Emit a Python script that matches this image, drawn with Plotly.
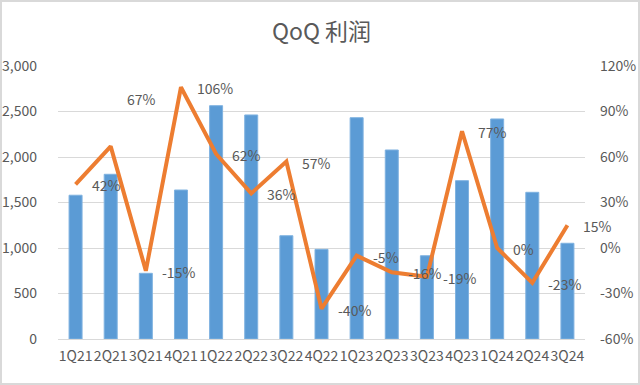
import plotly.graph_objects as go

quarters = ["1Q21","2Q21","3Q21","4Q21","1Q22","2Q22","3Q22","4Q22",
            "1Q23","2Q23","3Q23","4Q23","1Q24","2Q24","3Q24"]
profit = [1580, 1810, 722, 1637, 2564, 2462, 1135, 985,
          2432, 2077, 915, 1740, 2418, 1612, 1052]
qoq_pct = [42, 67, -15, 106, 62, 36, 57, -40, -5, -16, -19, 77, 0, -23, 15]
left_ticks = [0, 500, 1000, 1500, 2000, 2500, 3000]
right_ticks = [-60, -30, 0, 30, 60, 90, 120]

FONT = "Noto Sans CJK SC, Noto Sans, sans-serif"
GREY = "#595959"

fig = go.Figure()
fig.add_trace(go.Bar(x=quarters, y=profit, marker_color="#5b9bd5",
                     marker_line_color="#7fb2e0", marker_line_width=1,
                     width=0.37, yaxis="y", showlegend=False))
fig.add_trace(go.Scatter(x=quarters, y=qoq_pct, mode="lines",
                         line=dict(color="#ed7d31", width=4),
                         yaxis="y2", showlegend=False))

for i, (q, v) in enumerate(zip(quarters, qoq_pct)):
    fig.add_annotation(x=q, y=v, xref="x", yref="y2", text=f"{v}%",
                       showarrow=False, xanchor="left", yanchor="middle",
                       xshift=14, yshift=47 if i == 1 else -1,
                       font=dict(family=FONT, size=14, color=GREY))

fig.update_layout(
    width=640, height=385,
    margin=dict(l=58, r=55, t=66, b=46, autoexpand=False),
    paper_bgcolor="white", plot_bgcolor="white",
    title=dict(text="QoQ 利润", x=0.5, xanchor="center", xref="paper",
               y=1 - 32 / 385, yanchor="middle", yref="container", automargin=False,
               font=dict(family=FONT, size=23, color=GREY)),
    font=dict(family=FONT, size=14, color=GREY),
    xaxis=dict(type="category", range=[-0.5, len(quarters) - 0.5],
               tickangle=0, showgrid=False, automargin=False,
               showline=True, linecolor="#d9d9d9", linewidth=1,
               ticks="", ticklabelstandoff=4, tickfont=dict(size=14, color=GREY)),
    yaxis=dict(range=[0, 3000], tickvals=left_ticks, automargin=False,
               ticktext=[f"{v:,}" for v in left_ticks],
               showgrid=True, gridcolor="#d9d9d9", gridwidth=1,
               zeroline=False, ticks="", ticklabelstandoff=20,
               tickfont=dict(size=14, color=GREY)),
    yaxis2=dict(range=[-60, 120], tickvals=right_ticks, automargin=False,
                ticktext=[f"{v}%" for v in right_ticks],
                overlaying="y", side="right", showgrid=False,
                zeroline=False, ticks="", ticklabelstandoff=14,
                tickfont=dict(size=14, color=GREY)),
    shapes=[dict(type="rect", xref="paper", yref="paper",
                 x0=-57 / 527, x1=1 + 54 / 527, y0=-45 / 273, y1=1 + 65 / 273,
                 line=dict(color="#d9d9d9", width=2))],
)

fig.write_html("out.html", config={"displayModeBar": False},
               post_script="document.body.style.margin='0';")
